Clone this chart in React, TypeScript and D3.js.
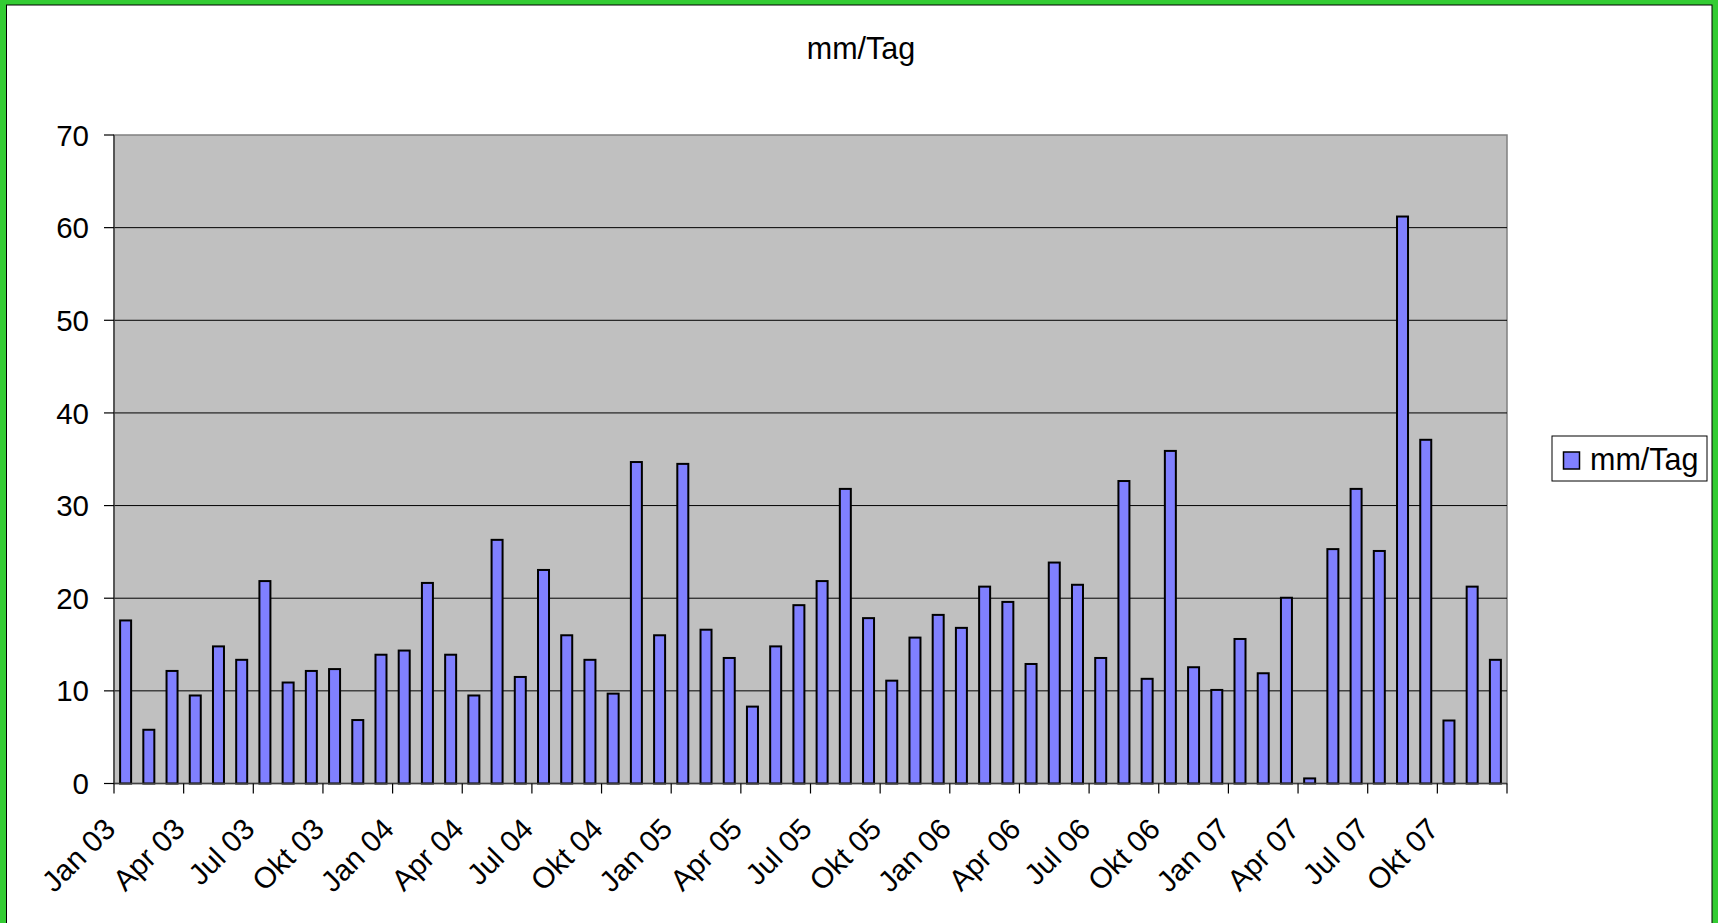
import React from "react";
import * as d3 from "d3";

const monthNames = ["Jan", "Feb", "Mär", "Apr", "Mai", "Jun", "Jul", "Aug", "Sep", "Okt", "Nov", "Dez"];
const years = ["03", "04", "05", "06", "07"];
const categories: string[] = years.flatMap((y) => monthNames.map((m) => `${m} ${y}`));

const values = [
  17.6, 5.8, 12.15, 9.5, 14.8, 13.35, 21.85, 10.9, 12.15, 12.35, 6.85, 13.9,
  14.35, 21.65, 13.9, 9.5, 26.3, 11.5, 23.05, 16.0, 13.35, 9.7, 34.7, 16.0,
  34.5, 16.6, 13.55, 8.3, 14.8, 19.25, 21.85, 31.8, 17.85, 11.1, 15.75, 18.2,
  16.8, 21.25, 19.6, 12.9, 23.85, 21.45, 13.55, 32.65, 11.3, 35.9, 12.55, 10.1,
  15.6, 11.9, 20.05, 0.55, 25.3, 31.8, 25.1, 61.2, 37.1, 6.8, 21.25, 13.35,
];

const tickLabels = [
  "Jan 03", "Apr 03", "Jul 03", "Okt 03",
  "Jan 04", "Apr 04", "Jul 04", "Okt 04",
  "Jan 05", "Apr 05", "Jul 05", "Okt 05",
  "Jan 06", "Apr 06", "Jul 06", "Okt 06",
  "Jan 07", "Apr 07", "Jul 07", "Okt 07",
];

const yTicks = [0, 10, 20, 30, 40, 50, 60, 70];
const seriesName = "mm/Tag";
const title = "mm/Tag";

const W = 1718;
const H = 923;
const FONT = "'Liberation Sans', Arial, Helvetica, sans-serif";
const FS = 29.5;
const FS_T = 30.5;

export default function App() {
  const left = 114;
  const right = 1507;
  const top = 135;
  const bottom = 783.5;

  const x = d3
    .scaleBand<string>()
    .domain(categories)
    .range([left, right])
    .paddingInner(0.44)
    .paddingOuter(0.22);
  const step = x.step();
  const y = d3.scaleLinear().domain([0, 70]).range([bottom, top]);

  const bw = x.bandwidth();

  return (
    <svg
      width={W}
      height={H}
      style={{ position: "fixed", left: 0, top: 0, display: "block" }}
      fontFamily={FONT}
    >
      <rect x={0} y={0} width={W} height={H} fill="#33CC33" />
      <rect x={6.5} y={5} width={1705.5} height={1000} fill="#ffffff" stroke="#000" strokeWidth={1} />

      <text x={861} y={59} fontSize={FS_T} textAnchor="middle" fill="#000">
        {title}
      </text>

      {/* plot area */}
      <rect x={left} y={top} width={right - left} height={bottom - top} fill="#C0C0C0" stroke="#808080" strokeWidth={1.5} />

      {yTicks
        .filter((t) => t > 0 && t < 70)
        .map((t) => (
          <line key={`g${t}`} x1={left} x2={right} y1={y(t)} y2={y(t)} stroke="#000" strokeWidth={1} />
        ))}

      {values.map((v, i) => {
        const cx = x(categories[i])!;
        return (
          <rect
            key={`b${i}`}
            x={cx + 1}
            y={y(v)}
            width={bw - 2}
            height={bottom - y(v)}
            fill="#8080FF"
            stroke="#000"
            strokeWidth={2}
          />
        );
      })}

      {/* axes */}
      <line x1={left} x2={left} y1={top} y2={bottom} stroke="#404040" strokeWidth={1.5} />
      <line x1={left} x2={right} y1={bottom} y2={bottom} stroke="#404040" strokeWidth={1.5} />

      {yTicks.map((t) => (
        <g key={`yt${t}`}>
          <line x1={left - 10} x2={left} y1={y(t)} y2={y(t)} stroke="#000" strokeWidth={1.2} />
          <text x={89} y={y(t)} dy="0.36em" fontSize={FS} textAnchor="end" fill="#000">
            {t}
          </text>
        </g>
      ))}

      {d3.range(0, categories.length + 1, 3).map((i) => {
        const tx = left + i * step;
        return (
          <line key={`xt${i}`} x1={tx} x2={tx} y1={bottom} y2={bottom + 10} stroke="#000" strokeWidth={1.2} />
        );
      })}

      {tickLabels.map((lab, k) => {
        const tx = left + k * 3 * step;
        return (
          <text
            key={`xl${k}`}
            transform={`translate(${tx + 3},831) rotate(-45)`}
            fontSize={FS}
            textAnchor="end"
            fill="#000"
          >
            {lab}
          </text>
        );
      })}

      {/* legend */}
      <rect x={1552} y={436} width={155} height={45} fill="#fff" stroke="#000" strokeWidth={1} />
      <rect x={1563.5} y={452} width={16} height={17} fill="#8080FF" stroke="#000" strokeWidth={1.5} />
      <text x={1590} y={470} fontSize={FS_T} fill="#000">
        {seriesName}
      </text>
    </svg>
  );
}
